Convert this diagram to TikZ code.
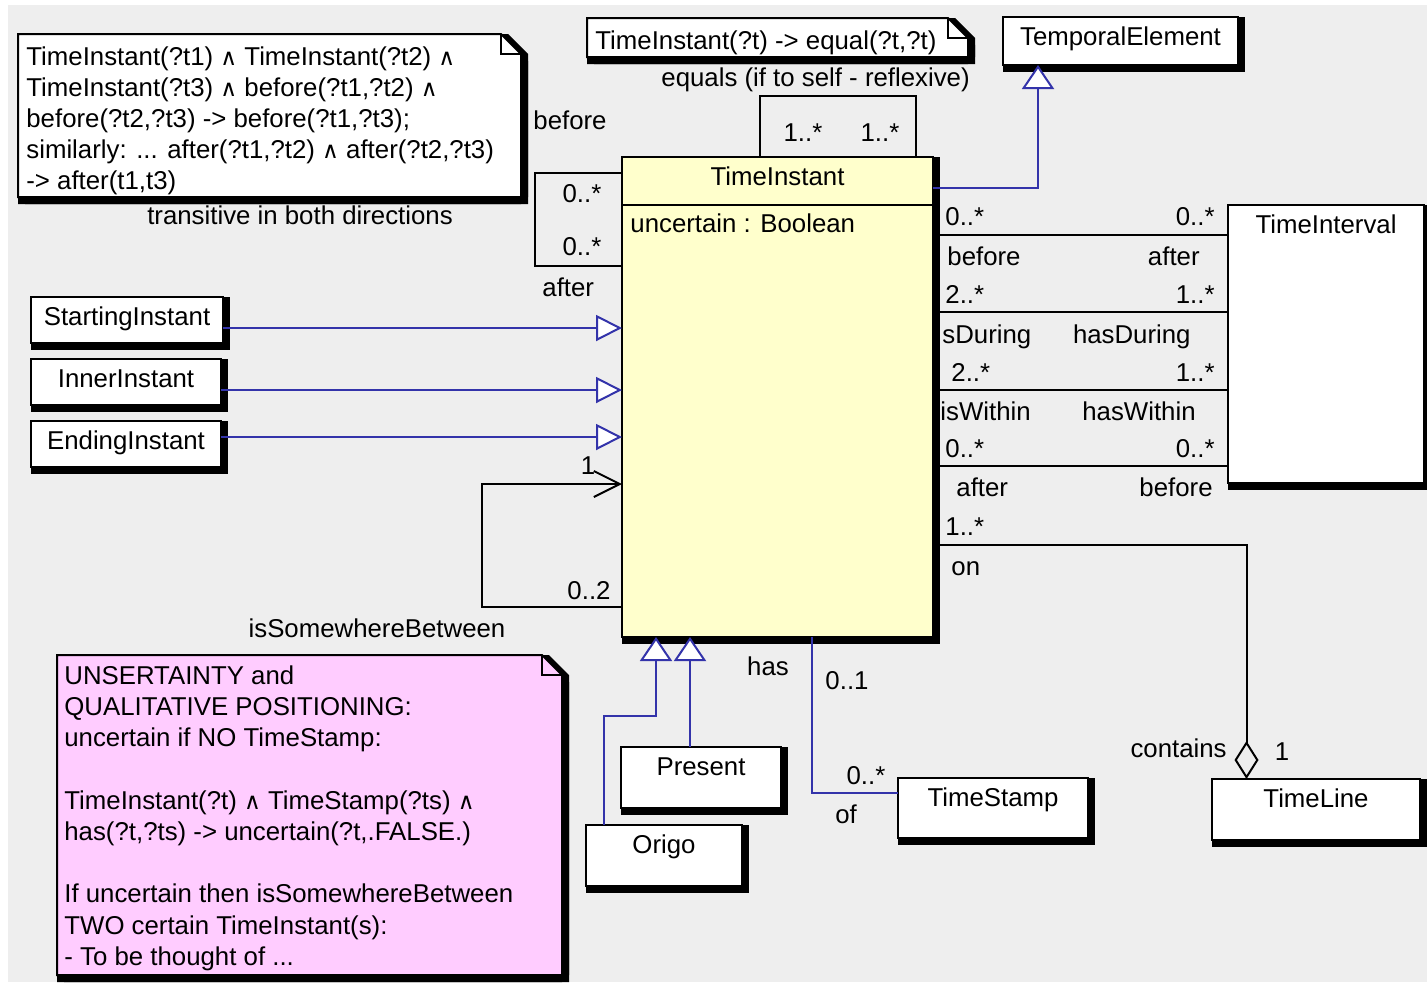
\documentclass[tikz,border=0pt]{standalone}
\usepackage{fontspec}
\setmainfont{Liberation Sans}
\newfontfamily\symfont{DejaVu Sans}
\usetikzlibrary{arrows.meta,calc}

\definecolor{canvas}{HTML}{EEEEEE}
\definecolor{genblue}{RGB}{51,51,170}
\definecolor{classyellow}{HTML}{FFFFCC}
\definecolor{notepink}{HTML}{FFCCFF}

% logical-and sign used inside the rule notes
\newcommand\wedgeglyph{{\symfont\fontsize{11.5}{11.5}\selectfont ∧}}

% class box with drop shadow: name, x1, y1, x2, y2, fill, title
\newcommand\umlbox[7]{%
  \fill[black] (#2,#3) rectangle ({#4+7},{#5+7});
  \node[draw=black, line width=1pt, fill=#6, outer sep=0pt, inner sep=0pt,
        anchor=north west, minimum width={(#4-#2)*0.5pt},
        minimum height={(#5-#3)*0.5pt}] (#1) at (#2,#3) {};
  \node[anchor=base] (#1-title) at ([yshift=-14.25pt]#1.north) {#7};
}

% note with folded corner and drop shadow: name, x1, y1, x2, y2, fill
\newcommand\umlnote[6]{%
  \fill[black, shift={(7,0)}] (#2,#3) -- ({#4-20},#3) -- (#4,{#3+20}) -- (#4,#5) -- (#2,#5) -- cycle;
  \fill[black, shift={(0,7)}] (#2,#3) -- ({#4-20},#3) -- (#4,{#3+20}) -- (#4,#5) -- (#2,#5) -- cycle;
  \fill[black, shift={(7,7)}] (#2,#3) -- ({#4-20},#3) -- (#4,{#3+20}) -- (#4,#5) -- (#2,#5) -- cycle;
  \draw[line width=1pt, fill=#6] (#2,#3) coordinate (#1) -- ({#4-20},#3) -- (#4,{#3+20})
        -- (#4,#5) -- (#2,#5) -- cycle;
  \draw[line width=1pt] ({#4-20},#3) -- ({#4-20},{#3+20}) -- (#4,{#3+20});
}

\begin{document}
\begin{tikzpicture}[x=0.5pt, y=-0.5pt,
  every node/.style={font=\fontsize{12.9}{15.5}\selectfont, inner sep=0pt, text=black},
  assoc/.style={draw=black, line width=1pt},
  blueassoc/.style={draw=genblue, line width=1pt},
  gen/.style={draw=genblue, line width=1pt,
    -{Triangle[fill=white, length=12pt, width=16pt]}},
  sidegen/.style={draw=genblue, line width=1pt,
    -{Triangle[fill=white, length=13pt, width=13pt]}},
  lbl/.style={anchor=base},
  lblw/.style={anchor=base west},
  lble/.style={anchor=base east}]

\useasboundingbox (0,0) rectangle (1427,986);
\fill[white] (0,0) rectangle (1427,986);
\fill[canvas] (8,5) rectangle (1427,982);

% ---------- notes ----------
\umlnote{transnote}{18}{34}{521}{197}{white}
\node[lblw] (tn1) at (26,65)  {TimeInstant(?t1) \wedgeglyph{} TimeInstant(?t2) \wedgeglyph};
\node[lblw] (tn2) at (26,96)  {TimeInstant(?t3) \wedgeglyph{} before(?t1,?t2) \wedgeglyph};
\node[lblw] (tn3) at (26,127) {before(?t2,?t3) -> before(?t1,?t3);};
\node[lblw] (tn4) at (26,158) {similarly: ... after(?t1,?t2) \wedgeglyph{} after(?t2,?t3)};
\node[lblw] (tn5) at (26,189) {-> after(t1,t3)};
\node[lbl]  (transitive) at (300,224) {transitive in both directions};

\umlnote{eqnote}{587}{18}{968}{57}{white}
\node[lblw] (eq1) at (595,49) {TimeInstant(?t) -> equal(?t,?t)};
\node[lblw] (equals) at (661,86) {equals (if to self - reflexive)};

\umlnote{uncnote}{57}{655}{562}{975}{notepink}
\node[lblw] (un1) at (64,684.5) {UNSERTAINTY and};
\node[lblw] (un2) at (64,715.7) {QUALITATIVE POSITIONING:};
\node[lblw] (un3) at (64,746.9) {uncertain if NO TimeStamp:};
\node[lblw] (un4) at (64,809.3) {TimeInstant(?t) \wedgeglyph{} TimeStamp(?ts) \wedgeglyph};
\node[lblw] (un5) at (64,840.5) {has(?t,?ts) -> uncertain(?t,.FALSE.)};
\node[lblw] (un6) at (64,902.9) {If uncertain then isSomewhereBetween};
\node[lblw] (un7) at (64,934.1) {TWO certain TimeInstant(s):};
\node[lblw] (un8) at (64,965.3) {- To be thought of ...};

% ---------- classes ----------
\umlbox{te}{1003}{17}{1238}{65}{white}{TemporalElement}
\umlbox{ti}{622}{157}{933}{637}{classyellow}{TimeInstant}
\draw[assoc] ([yshift=-24pt]ti.north west) -- ([yshift=-24pt]ti.north east);
\node[anchor=base west] (ti-attr) at ([xshift=4pt, yshift=-37.5pt]ti.north west) {uncertain : Boolean};
\umlbox{tint}{1228}{205}{1424}{483}{white}{TimeInterval}
\umlbox{si}{31}{297}{223}{343}{white}{StartingInstant}
\umlbox{ii}{31}{359}{221}{405}{white}{InnerInstant}
\umlbox{ei}{31}{421}{221}{467}{white}{EndingInstant}
\umlbox{pr}{621}{747}{781}{808}{white}{Present}
\umlbox{og}{586}{825}{742}{886}{white}{Origo}
\umlbox{ts}{898}{778}{1088}{838}{white}{TimeStamp}
\umlbox{tl}{1212}{779}{1420}{840}{white}{TimeLine}

% ---------- generalizations ----------
\coordinate (teA) at ([yshift=-15.5pt]ti.north east);
\coordinate (teB) at ([xshift=-41.25pt]te.south);
\draw[gen] (teA) -| (teB);

\coordinate (siA) at ([yshift=-4pt]si.east);
\coordinate (iiA) at ([yshift=-4pt]ii.east);
\coordinate (eiA) at ([yshift=3.5pt]ei.east);
\draw[sidegen] (siA) -- (siA -| ti.west);
\draw[sidegen] (iiA) -- (iiA -| ti.west);
\draw[sidegen] (eiA) -- (eiA -| ti.west);

\coordinate (prA) at ([xshift=-5.5pt]pr.north);
\draw[gen] (prA) -- (prA |- ti.south);
\coordinate (ogA) at ([xshift=-30pt]og.north);
\coordinate (ogB) at ([xshift=-60.75pt]ti.south);
\draw[gen] (ogA) -- ++(0,-109) -| (ogB);

% ---------- associations ----------
% equals (reflexive)
\draw[assoc] ([xshift=-8.75pt]ti.north) -- ++(0,-61) -| ([xshift=69.25pt]ti.north);
% before / after among instants
\draw[assoc] ([yshift=-8pt]ti.north west) -- ++(-87,0) |- ([yshift=-54.5pt]ti.north west);
% isSomewhereBetween
\draw[assoc, -{Straight Barb[length=13pt, width=13pt]}]
  ([yshift=-225pt]ti.north west) -- ++(-140,0) |- ([yshift=-163.5pt]ti.north west);

% instant to interval relations
\coordinate (row1) at ([yshift=-39pt]ti.north east);
\coordinate (row2) at ([yshift=-77.5pt]ti.north east);
\coordinate (row3) at ([yshift=-116.5pt]ti.north east);
\coordinate (row4) at ([yshift=-154.5pt]ti.north east);
\draw[assoc] (row1) -- (row1 -| tint.west);
\draw[assoc] (row2) -- (row2 -| tint.west);
\draw[assoc] (row3) -- (row3 -| tint.west);
\draw[assoc] (row4) -- (row4 -| tint.west);

% on / contains
\coordinate (onA) at ([yshift=-194pt]ti.north east);
\coordinate (tlA) at ([xshift=-34.75pt]tl.north);
\draw[assoc, -{Diamond[open, length=19pt, width=12pt]}] (onA) -| (tlA);

% has / of
\coordinate (hasA) at ([xshift=17.25pt]ti.south);
\coordinate (ofA) at ([yshift=7.5pt]ts.west);
\draw[blueassoc] (hasA) |- (ofA);

% ---------- association labels ----------
\node[lblw] (lbBefore) at (533,129) {before};
\node[lblw] (lbAfter)  at (542,296) {after};
\node[lbl]  (mBa1) at (582,202) {0..*};
\node[lbl]  (mBa2) at (582,255) {0..*};
\node[lbl]  (mEq1) at (803,141) {1..*};
\node[lbl]  (mEq2) at (880,141) {1..*};

\node[lblw] (r1m1) at (945,225) {0..*};
\node[lble] (r1m2) at (1215,225) {0..*};
\node[lblw] (r1r1) at (947,265) {before};
\node[lble] (r1r2) at (1200,265) {after};

\node[lblw] (r2m1) at (945,303) {2..*};
\node[lble] (r2m2) at (1215,303) {1..*};
\node[lblw] (r2r1) at (942,343) {sDuring};
\node[lble] (r2r2) at (1191,343) {hasDuring};

\node[lblw] (r3m1) at (951,381) {2..*};
\node[lble] (r3m2) at (1215,381) {1..*};
\node[lblw] (r3r1) at (940,420) {isWithin};
\node[lble] (r3r2) at (1196,420) {hasWithin};

\node[lblw] (r4m1) at (945,457) {0..*};
\node[lble] (r4m2) at (1215,457) {0..*};
\node[lblw] (r4r1) at (956,496) {after};
\node[lble] (r4r2) at (1213,496) {before};

\node[lblw] (onM)  at (945,535) {1..*};
\node[lblw] (onR)  at (951,575) {on};
\node[lble] (contR) at (1227,757) {contains};
\node[lbl]  (contM) at (1282,760) {1};

\node[lbl] (hasR) at (768,675) {has};
\node[lbl] (hasM) at (847,689) {0..1};
\node[lbl] (ofM)  at (866,784) {0..*};
\node[lbl] (ofR)  at (846,823) {of};

\node[lbl] (sbM1) at (588,474) {1};
\node[lbl] (sbM2) at (589,599) {0..2};
\node[lbl] (sbR)  at (377,637) {isSomewhereBetween};

\end{tikzpicture}
\end{document}
